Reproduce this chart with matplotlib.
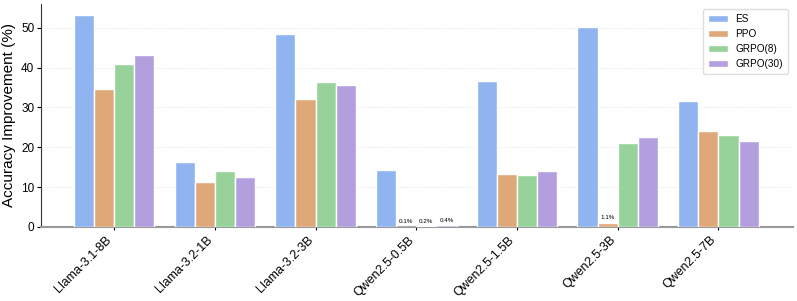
import numpy as np
import matplotlib.pyplot as plt

plt.rcParams['font.family'] = ['Liberation Sans', 'DejaVu Sans']

models = ["Llama-3.1-8B", "Llama-3.2-1B", "Llama-3.2-3B", "Qwen2.5-0.5B",
          "Qwen2.5-1.5B", "Qwen2.5-3B", "Qwen2.5-7B"]
es = [53.1, 16.3, 48.5, 14.3, 36.7, 50.1, 31.7]
ppo = [34.7, 11.3, 32.2, 0.1, 13.3, 1.1, 24.0]
grpo8 = [41.0, 14.1, 36.3, 0.2, 13.1, 21.0, 23.1]
grpo30 = [43.2, 12.6, 35.7, 0.4, 14.1, 22.6, 21.6]

series = [("ES", es, "#90b4ef"), ("PPO", ppo, "#dea879"),
          ("GRPO(8)", grpo8, "#96d29a"), ("GRPO(30)", grpo30, "#b49fde")]

fig = plt.figure(figsize=(7.97, 3.01), dpi=100)
ax = fig.add_axes([0.051, 0.246, 0.944, 0.741])

x = np.arange(len(models))
w = 0.2
for i, (name, vals, col) in enumerate(series):
    bars = ax.bar(x + (i - 1.5) * w, vals, w, label=name, color=col,
                  edgecolor="white", linewidth=1, zorder=3)
    # tiny values get a small % label
    for b, v in zip(bars, vals):
        if v < 2:
            ax.text(b.get_x() + b.get_width() / 2, v + 0.6, f"{v}%",
                    ha="center", va="bottom", fontsize=4.5)

ax.set_xlim(-0.73, 6.74)
ax.set_ylim(0, 56)
ax.set_xticks(x)
ax.set_xticklabels(models, rotation=45, ha="right", fontsize=9)
ax.tick_params(axis="y", labelsize=8.5, length=3, pad=1.5)
ax.tick_params(axis="x", length=2, pad=3)
ax.set_ylabel("Accuracy Improvement (%)", fontsize=11, labelpad=4)
ax.yaxis.grid(True, color="#e6e6e6", linestyle=":", linewidth=0.8, zorder=0)
ax.spines["top"].set_visible(False)
ax.spines["right"].set_visible(False)
ax.spines["left"].set_color("#333333")
ax.spines["bottom"].set_color("#999999")
ax.spines["bottom"].set_linewidth(1.5)
ax.legend(loc="upper right", fontsize=7.2, framealpha=1, edgecolor="#dddddd",
          handlelength=2.0, borderpad=0.5, labelspacing=0.5)

fig.savefig("out.png", dpi=100)
